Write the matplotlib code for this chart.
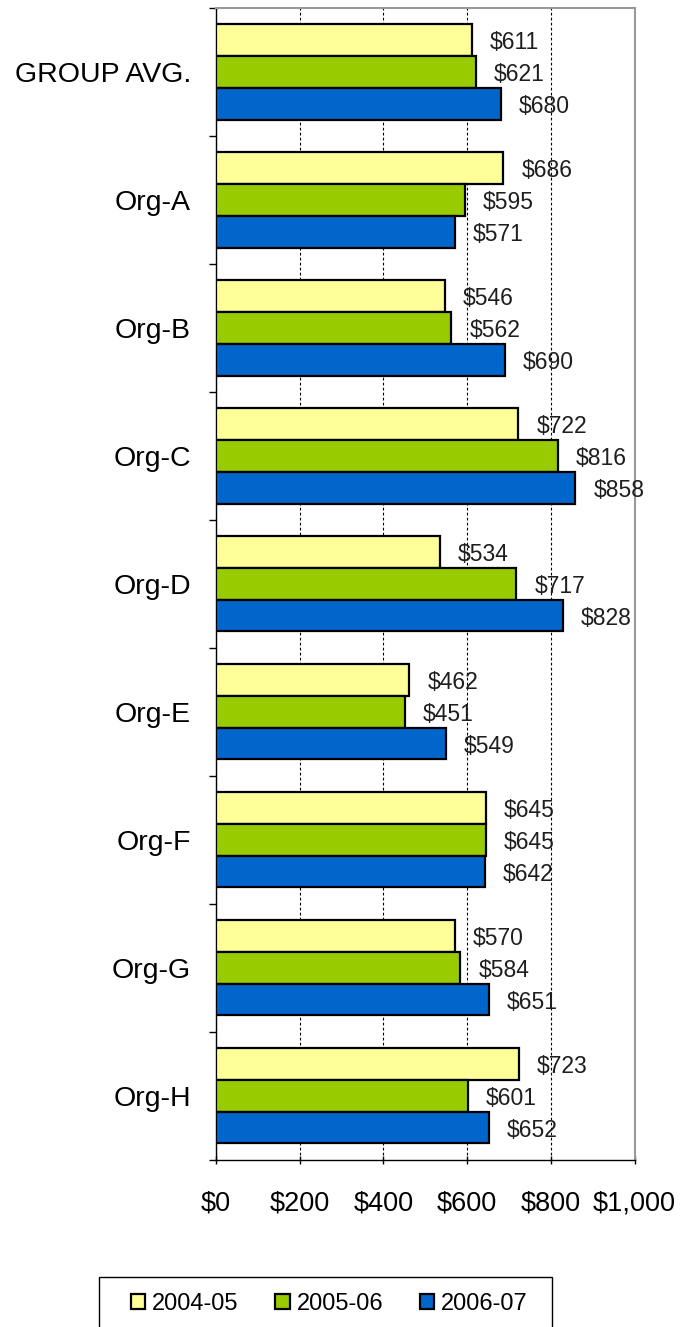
import numpy as np
import matplotlib
matplotlib.use("Agg")
from matplotlib import pyplot as plt
from matplotlib.patches import Rectangle

plt.rcParams['font.family'] = ['Liberation Sans', 'DejaVu Sans']

categories = ["GROUP AVG.", "Org-A", "Org-B", "Org-C", "Org-D", "Org-E", "Org-F", "Org-G", "Org-H"]
years = ["2004-05", "2005-06", "2006-07"]
v0405 = [611, 686, 546, 722, 534, 462, 645, 570, 723]
v0506 = [621, 595, 562, 816, 717, 451, 645, 584, 601]
v0607 = [680, 571, 690, 858, 828, 549, 642, 651, 652]
colors = ["#FFFF99", "#99CC00", "#0066CC"]

fig = plt.figure(figsize=(6.81, 13.27), dpi=100)
ax = fig.add_axes([0.317, 0.126, 0.615, 0.868])

y = np.arange(len(categories))
h = 0.248
series = [v0405, v0506, v0607]
for i, vals in enumerate(series):
    pos = y + (i - 1) * h
    ax.barh(pos, vals, height=h, color=colors[i], edgecolor="black",
            linewidth=1.6, label=years[i], zorder=3)
    for p, v in zip(pos, vals):
        ax.annotate("$%d" % v, (v, p), xytext=(13, -2), textcoords="offset points",
                    ha="left", va="center", fontsize=16.5, color="#1e1e1e", zorder=4)

ax.set_xlim(0, 1000)
ax.set_ylim(len(categories) - 0.5, -0.5)
ax.set_xticks([0, 200, 400, 600, 800, 1000])
ax.set_xticklabels(["$0", "$200", "$400", "$600", "$800", "$1,000"], fontsize=19.5)
ax.set_yticks(y)
ax.set_yticklabels(categories, fontsize=20.5)
ax.set_yticks(np.arange(-0.5, len(categories), 1), minor=True)
ax.tick_params(axis="y", which="major", length=0, pad=18)
ax.tick_params(axis="y", which="minor", length=5, width=1, direction="out")
ax.tick_params(axis="x", length=6, width=1, direction="inout", pad=19)
ax.xaxis.grid(True, linestyle=(0, (2.5, 2)), color="black", linewidth=0.8, zorder=0)

for s in ["top", "right"]:
    ax.spines[s].set_color("#999999")
    ax.spines[s].set_linewidth(1.5)
for s in ["left", "bottom"]:
    ax.spines[s].set_color("black")
    ax.spines[s].set_linewidth(1.0)

# legend box drawn by hand, entries without frame
fig.patches.append(Rectangle((99 / 681, -0.01), 453 / 681, 0.0377 + 0.01,
                             transform=fig.transFigure, facecolor="white",
                             edgecolor="black", linewidth=1.0))
leg = fig.legend(loc="center left", bbox_to_anchor=(131 / 681, 1 - 1304 / 1327),
                 ncol=3, fontsize=17, frameon=False, handlelength=0.6,
                 handleheight=0.6, handletextpad=0.3, borderpad=0,
                 borderaxespad=0, columnspacing=1.55)

fig.savefig("out.png", dpi=100)
